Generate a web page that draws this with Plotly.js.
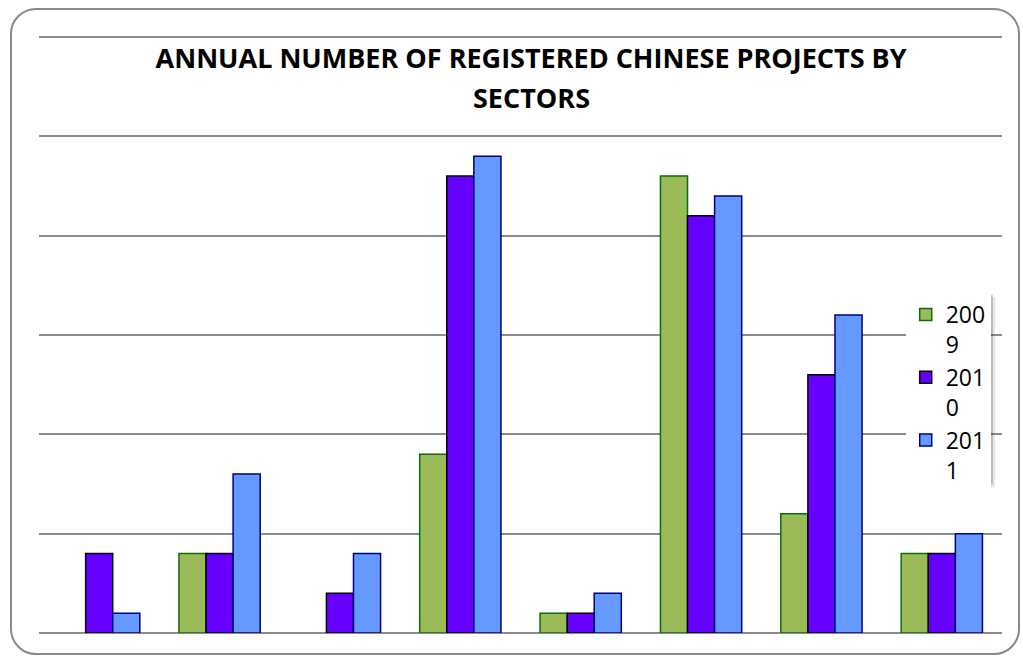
<!DOCTYPE html>
<html>
<head>
<meta charset="utf-8">
<script src="https://cdn.plot.ly/plotly-3.0.1.min.js"></script>
<style>
  html, body { margin: 0; padding: 0; background: #ffffff; }
  #frame { position: absolute; left: 10px; top: 8px; width: 1010px; height: 647px;
           box-sizing: border-box; border: 2px solid #8a8a8a; border-radius: 26px; }
  #chart { position: absolute; left: 0; top: 0; width: 1023px; height: 657px; }
</style>
</head>
<body>
<div id="frame"></div>
<div id="chart"></div>
<script>
// Data
const categories = ["Sector 1", "Sector 2", "Sector 3", "Sector 4", "Sector 5", "Sector 6", "Sector 7", "Sector 8"];
const seriesNames = ["200<br>9", "201<br>0", "201<br>1"];
const values2009 = [0, 4, 0, 9, 1, 23, 6, 4];
const values2010 = [4, 4, 2, 23, 1, 21, 13, 4];
const values2011 = [1, 8, 4, 24, 2, 22, 16, 5];

const fills = ["#9BBB59", "#6600FF", "#6699FF"];
const lines = ["#0b6e0b", "#000000", "#000080"];
const allValues = [values2009, values2010, values2011];

const traces = allValues.map((vals, i) => ({
  type: "bar",
  name: seriesNames[i],
  x: categories,
  // zero values are not drawn at all in the reference (no flat outline)
  y: vals.map(v => (v === 0 ? null : v)),
  marker: {
    color: fills[i],
    line: { color: lines[i], width: 1.5 }
  },
  hoverinfo: "x+y"
}));

const layout = {
  width: 1023,
  height: 657,
  paper_bgcolor: "rgba(0,0,0,0)",
  plot_bgcolor: "rgba(0,0,0,0)",
  margin: { l: 39, r: 21, t: 27, b: 24, pad: 0 },
  bargap: 0.325,
  bargroupgap: 0,
  showlegend: true,
  font: { family: "Open Sans, sans-serif", color: "#000000" },
  title: {
    text: "<b>ANNUAL NUMBER OF REGISTERED CHINESE PROJECTS BY</b>",
    font: { family: "Open Sans, sans-serif", size: 27, color: "#000000" },
    xref: "paper", x: 0.511, xanchor: "center",
    yref: "container", y: 0.911, yanchor: "middle"
  },
  annotations: [{
    text: "<b>SECTORS</b>",
    font: { family: "Open Sans, sans-serif", size: 27, color: "#000000" },
    xref: "paper", x: 0.511, xanchor: "center",
    yref: "paper", y: 0.883, yanchor: "middle",
    showarrow: false
  }],
  xaxis: {
    showticklabels: false, ticks: "", showgrid: false, zeroline: false, showline: false,
    fixedrange: true
  },
  yaxis: {
    range: [0, 30.5], tickmode: "linear", dtick: 5, tick0: 0,
    showticklabels: false, ticks: "",
    showgrid: true, gridcolor: "#8c8c8c", gridwidth: 1.5,
    zeroline: true, zerolinecolor: "#8c8c8c", zerolinewidth: 1.5,
    showline: false, fixedrange: true
  },
  legend: {
    x: 0.900, y: 0.561, xanchor: "left", yanchor: "top",
    xref: "paper", yref: "paper",
    bgcolor: "#ffffff", borderwidth: 0,
    valign: "top",
    tracegroupgap: 0,
    font: { family: "Open Sans, sans-serif", size: 23, color: "#000000" }
  },
  shapes: [
    { type: "rect", xref: "paper", yref: "paper", layer: "above",
      x0: 0.9096, x1: 0.9927, y0: 0.240, y1: 0.555,
      fillcolor: "rgba(0,0,0,0.10)", line: { width: 0 } },
    { type: "rect", xref: "paper", yref: "paper", layer: "above",
      x0: 0.9076, x1: 0.9906, y0: 0.245, y1: 0.558,
      fillcolor: "rgba(0,0,0,0.18)", line: { width: 0 } }
  ]
};

Plotly.newPlot("chart", traces, layout, { displayModeBar: false });
</script>
</body>
</html>
